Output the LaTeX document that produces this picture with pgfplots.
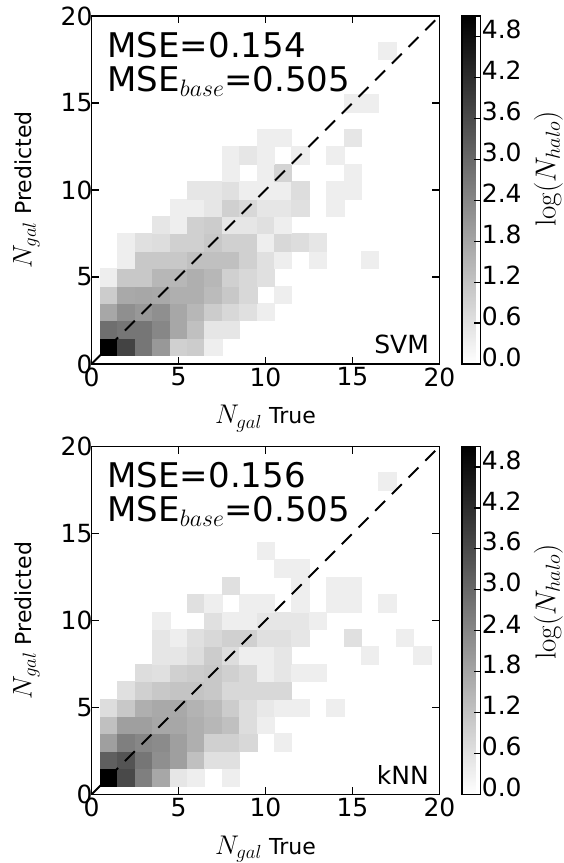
\RequirePackage{fix-cm}
\documentclass[border=0pt]{standalone}
\usepackage[no-math]{fontspec}
\setmainfont{DejaVu Sans}
\usepackage{pgfplots}
\pgfplotsset{compat=1.18}
\usepackage{pgfplotstable}

\pgfplotstableread{
x y c
1 1 5.10
2 1 3.74
3 1 2.72
4 1 2.04
5 1 0.94
6 1 1.02
7 1 0.34
1 2 2.86
2 2 2.72
3 2 2.72
4 2 2.38
5 2 1.74
6 2 1.26
7 2 0.50
8 2 0.50
1 3 1.74
2 3 2.22
3 3 2.04
4 3 2.22
5 3 1.74
6 3 1.42
7 3 1.02
8 3 0.78
9 3 0.62
10 3 0.34
1 4 1.02
2 4 1.70
3 4 1.74
4 4 1.70
5 4 1.58
6 4 1.58
7 4 1.36
8 4 1.10
9 4 0.78
11 4 0.34
1 5 0.34
2 5 1.10
3 5 1.10
4 5 1.42
5 5 1.42
6 5 1.58
7 5 1.42
8 5 0.94
9 5 0.78
10 5 0.62
2 6 0.34
3 6 1.10
4 6 1.10
5 6 1.10
6 6 1.26
7 6 1.26
8 6 1.26
9 6 0.94
10 6 0.62
11 6 0.34
13 6 0.34
16 6 0.34
2 7 0.34
3 7 0.62
4 7 0.68
5 7 0.94
6 7 0.94
7 7 1.10
8 7 0.94
9 7 0.94
10 7 0.34
11 7 0.78
12 7 0.68
13 7 0.50
4 8 0.50
5 8 0.34
6 8 0.94
7 8 1.02
8 8 0.50
9 8 0.50
10 8 0.62
11 8 0.34
5 9 0.34
6 9 0.34
7 9 0.50
8 9 0.94
9 9 0.78
10 9 0.50
11 9 0.50
12 9 0.62
14 9 0.34
6 10 0.50
7 10 0.50
8 10 0.62
9 10 0.34
10 10 0.34
11 10 0.34
12 10 0.68
14 10 0.34
15 10 0.34
8 11 0.34
10 11 0.34
11 11 0.86
15 11 0.34
8 12 0.34
9 12 0.50
10 12 0.34
12 12 0.34
14 12 0.34
10 13 0.34
11 13 0.34
15 13 0.50
15 15 0.34
16 15 0.34
17 18 0.34
}\svmdata

\pgfplotstableread{
x y c
1 1 5.10
2 1 3.62
3 1 2.54
4 1 1.74
5 1 0.50
6 1 0.34
8 1 0.34
1 2 3.18
2 2 3.40
3 2 2.72
4 2 2.22
5 2 1.90
6 2 1.26
7 2 0.62
8 2 0.62
1 3 1.90
2 3 2.54
3 3 2.38
4 3 2.30
5 3 1.90
6 3 1.58
7 3 0.94
8 3 0.94
9 3 0.78
11 3 0.34
1 4 1.26
2 4 1.90
3 4 1.90
4 4 1.74
5 4 1.74
6 4 1.58
7 4 1.42
8 4 1.26
9 4 0.68
10 4 0.34
1 5 0.68
2 5 1.10
3 5 1.58
4 5 1.70
5 5 1.70
6 5 1.50
7 5 1.36
8 5 1.02
9 5 0.68
10 5 0.46
11 5 0.34
12 5 0.34
14 5 0.34
2 6 0.62
3 6 0.94
4 6 1.10
5 6 1.18
6 6 1.18
7 6 1.10
8 6 0.78
9 6 0.78
10 6 0.78
11 6 0.78
3 7 0.68
4 7 0.62
5 7 0.94
6 7 1.02
7 7 1.10
8 7 0.94
9 7 0.78
10 7 0.34
11 7 0.50
12 7 0.34
13 7 0.34
4 8 0.50
5 8 0.50
6 8 0.68
7 8 1.02
8 8 0.68
9 8 0.34
10 8 0.34
11 8 0.50
16 8 0.34
19 8 0.34
4 9 0.50
5 9 0.34
6 9 0.62
7 9 0.78
8 9 0.94
9 9 0.94
10 9 0.62
11 9 0.62
12 9 0.50
15 9 0.62
18 9 0.34
4 10 0.34
7 10 0.62
8 10 0.34
9 10 0.34
10 10 0.50
11 10 0.50
12 10 0.50
13 10 0.34
6 11 0.62
7 11 0.34
9 11 0.34
10 11 0.34
12 11 0.34
14 11 0.34
15 11 0.34
17 11 0.34
8 12 0.62
12 12 0.34
14 12 0.34
15 12 0.34
11 13 0.34
12 13 0.34
10 14 0.34
17 18 0.34
}\knndata

\pgfplotsset{
  histax/.style={
    clip marker paths=true,
    scale only axis, width=348pt, height=348pt,
    xmin=0, xmax=20, ymin=0, ymax=20,
    xtick={0,5,10,15,20}, ytick={0,5,10,15,20},
    tick pos=both, tick align=inside, major tick length=7pt,
    axis line style={line width=1.6pt},
    every tick/.append style={line width=1.2pt, black},
    /pgf/number format/assume math mode=true,
    tick label style={font=\fontsize{25}{30}\selectfont},
    yticklabel style={xshift=4.5pt},
    xlabel={{\fontsize{27}{30}\selectfont$N_{gal}$} True},
    ylabel={{\fontsize{27}{30}\selectfont$N_{gal}$} Predicted},
    label style={font=\fontsize{22}{26}\selectfont},
    xlabel style={at={(axis description cs:0.5,-0.1724)}, anchor=base},
    ylabel style={at={(axis description cs:-0.1718,0.5)}, anchor=base},
    colormap={grayr}{gray(0cm)=(1); gray(1cm)=(0)},
    point meta min=0, point meta max=5.1,
    colorbar,
    colorbar style={
      scale only axis, width=18.6pt, height=348pt,
      at={(parent axis.south east)}, anchor=south west, xshift=13.7pt,
      ytick={0,0.6,1.2,1.8,2.4,3.0,3.6,4.2,4.8},
      ytick pos=right, yticklabel pos=right, tick align=inside,
      major tick length=6pt,
      axis line style={line width=1.6pt},
      every tick/.append style={line width=1.2pt, black},
      yticklabel style={font=\fontsize{25}{30}\selectfont,
        /pgf/number format/fixed, /pgf/number format/fixed zerofill,
        /pgf/number format/precision=1,
        /pgf/number format/assume math mode=true,
        xshift=-2pt, yshift=7pt},
    },
  },
  histcells/.style={scatter, only marks, mark=square*, mark size=8.7pt,
    scatter/use mapped color={draw=mapped color, fill=mapped color},
    mark options={line width=0.3pt}},
  diag/.style={black, line width=2pt, dash pattern=on 14pt off 9.6pt},
}

\begin{document}
\begin{tikzpicture}
\useasboundingbox (0pt,0pt) rectangle (563pt,863pt);

\begin{axis}[histax, at={(91.5pt,499pt)}, anchor=south west]
\addplot[histcells, point meta=\thisrow{c}] table[x=x, y=y] {\svmdata};
\addplot[diag] coordinates {(0,0) (20,20)};
\node[anchor=base west, inner sep=0pt, font=\fontsize{34}{40}\selectfont] at (axis cs:0.91,17.62) {MSE=0.154};
\node[anchor=base west, inner sep=0pt, font=\fontsize{34}{40}\selectfont] at (axis cs:0.91,15.68) {MSE$_{base}$=0.505};
\node[anchor=base east, inner sep=0pt, font=\fontsize{25}{30}\selectfont] at (axis cs:19.4,0.61) {SVM};
\end{axis}

\begin{axis}[histax, at={(91.5pt,68.5pt)}, anchor=south west]
\addplot[histcells, point meta=\thisrow{c}] table[x=x, y=y] {\knndata};
\addplot[diag] coordinates {(0,0) (20,20)};
\node[anchor=base west, inner sep=0pt, font=\fontsize{34}{40}\selectfont] at (axis cs:0.91,17.62) {MSE=0.156};
\node[anchor=base west, inner sep=0pt, font=\fontsize{34}{40}\selectfont] at (axis cs:0.91,15.68) {MSE$_{base}$=0.505};
\node[anchor=base east, inner sep=0pt, font=\fontsize{25}{30}\selectfont] at (axis cs:19.4,0.59) {kNN};
\end{axis}

\node[rotate=90, anchor=base, inner sep=0pt, font=\fontsize{29}{34}\selectfont] at (555.5pt,694pt) {$\log(N_{halo})$};
\node[rotate=90, anchor=base, inner sep=0pt, font=\fontsize{29}{34}\selectfont] at (555.5pt,261pt) {$\log(N_{halo})$};
\end{tikzpicture}
\end{document}
